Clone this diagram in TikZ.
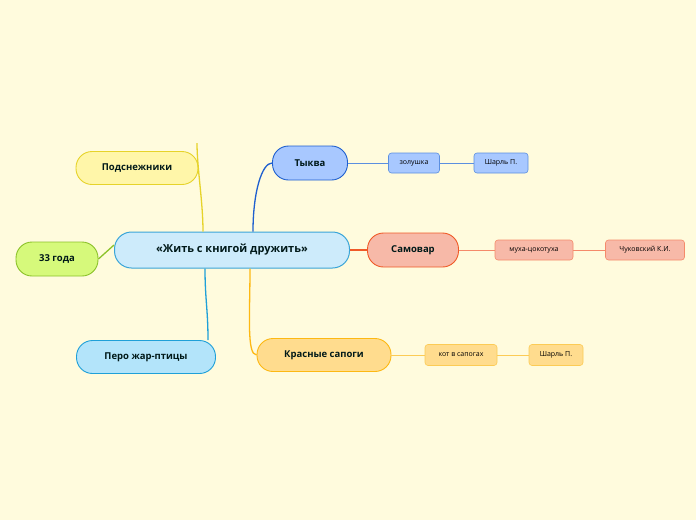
\documentclass[tikz,border=0pt]{standalone}
\usepackage{fontspec}
\setmainfont{Open Sans}
\begin{document}
\begin{tikzpicture}[x=1pt,y=-1pt,
  base/.style={draw,rounded corners=#1,align=center,text=black!80!teal,inner sep=0pt},
  big/.style={base=17pt,line width=1pt,font=\fontsize{11}{13}\selectfont\bfseries},
  mid/.style={base=16pt,line width=0.9pt,font=\fontsize{9.5}{11}\selectfont\bfseries},
  small/.style={base=3pt,line width=0.6pt,font=\fontsize{7}{8}\selectfont,text=black},
  ln/.style={line width=1.3pt},
  sl/.style={line width=0.7pt}]
\definecolor{bg}{HTML}{FFFBDD}
\fill[bg] (0,0) rectangle (696,520);
\useasboundingbox (0,0) rectangle (696,520);
\definecolor{cenF}{HTML}{CDEBFB}\definecolor{cenD}{HTML}{3AA5D8}
\definecolor{yF}{HTML}{FFF6A9}\definecolor{yD}{HTML}{E6D32A}
\definecolor{gF}{HTML}{D6F97B}\definecolor{gD}{HTML}{8CC22A}
\definecolor{lbF}{HTML}{B3E4FA}\definecolor{lbD}{HTML}{1FA0D8}
\definecolor{bF}{HTML}{A8C8FF}\definecolor{bD}{HTML}{1E5FCF}
\definecolor{rF}{HTML}{F7B9A8}\definecolor{rD}{HTML}{F05A28}
\definecolor{oF}{HTML}{FFDC8E}\definecolor{oD}{HTML}{FDB813}
\definecolor{sbD}{HTML}{5B8FE0}\definecolor{srD}{HTML}{F58A6A}\definecolor{soD}{HTML}{FCCB55}

\node[big,fill=cenF,draw=cenD,minimum width=235pt,minimum height=36pt] (c) at (232,250) {«Жить с книгой дружить»};
\node[mid,fill=yF,draw=yD,minimum width=122pt,minimum height=33pt] (p) at (137,168) {Подснежники};
\node[mid,fill=gF,draw=gD,minimum width=82pt,minimum height=34pt] (g) at (57,259) {33 года};
\node[mid,fill=lbF,draw=lbD,minimum width=139pt,minimum height=33pt] (pe) at (146,357) {Перо жар-птицы};
\node[mid,fill=bF,draw=bD,minimum width=75pt,minimum height=34pt] (t) at (310,163) {Тыква};
\node[mid,fill=rF,draw=rD,minimum width=91pt,minimum height=34pt] (s) at (413,250) {Самовар};
\node[mid,fill=oF,draw=oD,minimum width=134pt,minimum height=33pt] (k) at (324,355) {Красные сапоги};

\node[small,fill=bF,draw=sbD,minimum width=51pt,minimum height=20pt] (t1) at (414,163) {золушка};
\node[small,fill=bF,draw=sbD,minimum width=54pt,minimum height=20pt] (t2) at (501,163) {Шарль П.};
\node[small,fill=rF,draw=srD,minimum width=78pt,minimum height=20pt] (s1) at (534,250) {муха-цокотуха};
\node[small,fill=rF,draw=srD,minimum width=79pt,minimum height=20pt] (s2) at (645,250) {Чуковский К.И.};
\node[small,fill=oF,draw=soD,minimum width=72pt,minimum height=21pt] (k1) at (461,355) {кот в сапогах};
\node[small,fill=oF,draw=soD,minimum width=54pt,minimum height=21pt] (k2) at (556,355) {Шарль П.};

\begin{scope}[on background layer/.style={}]
\end{scope}
\draw[ln,draw=yD] ([xshift=-29pt]c.north) .. controls +(0,-30) and +(0,25) .. ([xshift=60pt,yshift=8pt]p.north);
\draw[ln,draw=gD] ([yshift=5pt]c.west) -- (g.east);
\draw[ln,draw=lbD] ([xshift=-27pt]c.south) .. controls +(0,30) and +(0,-30) .. ([xshift=62pt]pe.north);
\draw[ln,draw=bD] ([xshift=21pt]c.north) .. controls +(0,-40) and +(-10,0) .. (t.west);
\draw[ln,draw=rD] (c.east) -- (s.west);
\draw[ln,draw=oD] ([xshift=18pt]c.south) .. controls +(0,45) and +(-10,0) .. (k.west);
\draw[sl,draw=sbD] (t.east) -- (t1.west) (t1.east) -- (t2.west);
\draw[sl,draw=srD] (s.east) -- (s1.west) (s1.east) -- (s2.west);
\draw[sl,draw=soD] (k.east) -- (k1.west) (k1.east) -- (k2.west);
\end{tikzpicture}
\end{document}
